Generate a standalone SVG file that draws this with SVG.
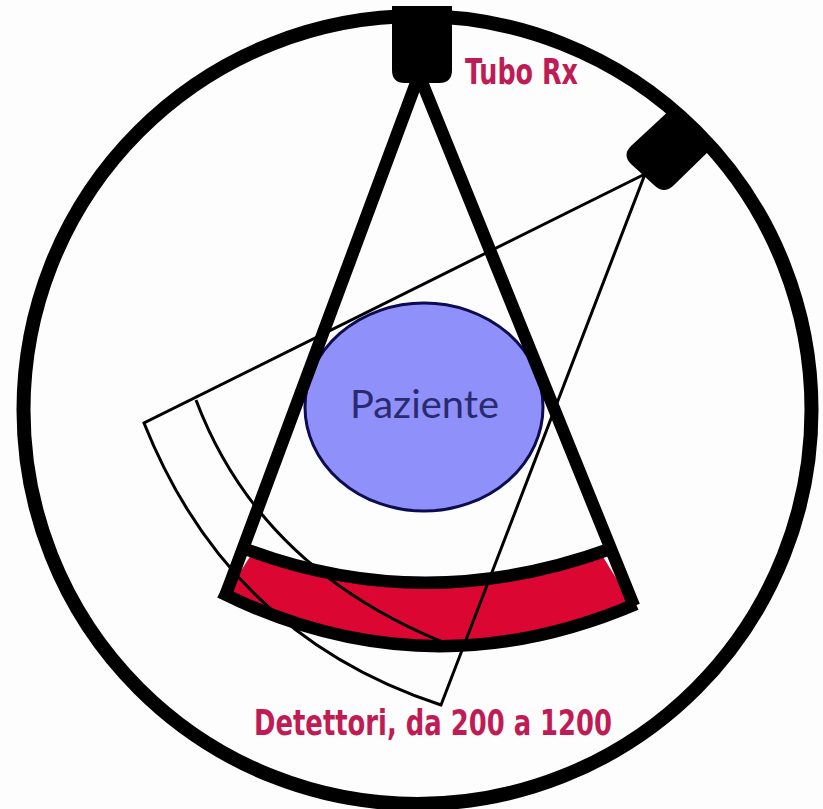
<svg xmlns="http://www.w3.org/2000/svg" width="823" height="809" viewBox="0 0 823 809">
<style>
.red{fill:#bf1c55;font-family:"DejaVu Sans Condensed","DejaVu Sans",sans-serif;font-weight:bold;font-size:36px}
.thin{fill:none;stroke:#000;stroke-width:3}
.thick{fill:none;stroke:#000;stroke-width:12.5}
</style>
<rect width="823" height="809" fill="#fdfdfd"/>
<g id="gantry"><circle cx="417.5" cy="410" r="394" fill="none" stroke="#000" stroke-width="14"/></g>
<g id="detector"><path d="M226 594 L253 552 Q425 616 600 552 L632 604 Q425 694 226 594Z" fill="#dc0632"/></g>
<g id="connectors">
<path class="thin" d="M645 174 L144 423 Q229 636 441 705 Z"/>
<path class="thin" d="M196 400 Q260 570 450 645"/>
</g>
<g id="patient"><ellipse cx="424" cy="407" rx="119" ry="104" fill="#9090fa" stroke="#0c0c50" stroke-width="3"/><text x="350" y="418" font-family="Lato,sans-serif" font-size="38" textLength="149" lengthAdjust="spacingAndGlyphs" fill="#2a2a70">Paziente</text></g>
<g id="beam">
<path class="thick" d="M226 594 L419 75 L634 606"/>
<path class="thick" d="M248 550 Q425 616 610 549"/>
<path class="thick" d="M220 592 Q425 694 636 604"/>
</g>
<g id="tube1"><path d="M392 6 H452 V70 Q452 83 439 83 H405 Q392 83 392 70Z" fill="#000"/><text class="red" x="465" y="84" textLength="113" lengthAdjust="spacingAndGlyphs">Tubo Rx</text></g>
<g id="tube2"><path d="M631 146 L672 108 L713 147 L673 186 Q664 194 655 186 L631 164 Q622 155 631 146 Z" fill="#000"/></g>
<g id="label"><text class="red" x="254" y="735" textLength="358" lengthAdjust="spacingAndGlyphs">Detettori, da 200 a 1200</text></g>
</svg>
